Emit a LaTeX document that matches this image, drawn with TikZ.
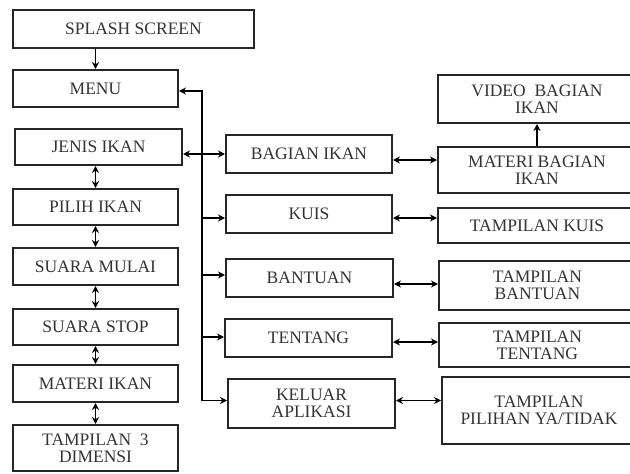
\documentclass[tikz,border=0pt]{standalone}
\usepackage{fontspec}
\setmainfont{Liberation Serif}
\usepackage{tikz}
\usetikzlibrary{arrows.meta, positioning, calc}
\tikzset{
  % Box styles
  screen/.style={rectangle, draw=black!85, line width=2pt, minimum width=#1, text centered, align=center, inner sep=2pt, text=black!80, font=\fontsize{17.5}{17}\selectfont},
  screen/.default={165pt},
  % Connector styles
  arrow/.style={-{Stealth[length=7pt, width=7pt]}, line width=1.8pt},
  darrow/.style={{Stealth[length=7pt, width=7pt]}-{Stealth[length=7pt, width=7pt]}, line width=1.8pt},
}
\begin{document}
\begin{tikzpicture}[x=1pt, y=-1pt]
    \useasboundingbox (0,0) rectangle (630,474);
    \clip (0,0) rectangle (630,474);

    % Left column
    \node[screen=241pt, minimum height=38pt] (splash) at (133.5,29) {SPLASH SCREEN};
    \node[screen, minimum height=37pt] (menu) at (95.5,88.5) {MENU};
    \node[screen=167pt, minimum height=36pt] (jenis) at (98.5,147) {JENIS IKAN};
    \node[screen, minimum height=36pt] (pilih) at (95.5,207) {PILIH IKAN};
    \node[screen, minimum height=37pt] (mulai) at (95.5,266.5) {SUARA MULAI};
    \node[screen, minimum height=36pt] (stop) at (95.5,327) {SUARA STOP};
    \node[screen, minimum height=37pt] (materi) at (95.5,383.5) {MATERI IKAN};
    \node[screen, minimum height=46pt] (dimensi) at (95.5,448) {TAMPILAN \ 3\\DIMENSI};

    % Middle column
    \node[screen=166pt, minimum height=38pt] (bagian) at (309,154) {BAGIAN IKAN};
    \node[screen=166pt, minimum height=38pt] (kuis) at (309,214) {KUIS};
    \node[screen=167pt, minimum height=38pt] (bantuan) at (309.5,278) {BANTUAN};
    \node[screen=167pt, minimum height=38pt] (tentang) at (308.5,338) {TENTANG};
    \node[screen=167pt, minimum height=49pt] (keluar) at (311.5,403.5) {KELUAR\\APLIKASI};

    % Right column
    \node[screen=198pt, minimum height=48pt] (video) at (537,99) {VIDEO \ BAGIAN\\IKAN};
    \node[screen=198pt, minimum height=46pt] (materibag) at (537,170) {MATERI BAGIAN\\IKAN};
    \node[screen=198pt, minimum height=35pt] (tkuis) at (537,225.5) {TAMPILAN KUIS};
    \node[screen=197pt, minimum height=49pt] (tbantuan) at (537.5,285.5) {TAMPILAN\\BANTUAN};
    \node[screen=197pt, minimum height=44pt] (ttentang) at (537.5,345) {TAMPILAN\\TENTANG};
    \node[screen=194pt, minimum height=67pt] (tpilihan) at (539,410.5) {TAMPILAN\\PILIHAN YA/TIDAK};

    % Left column arrows
    \draw[arrow] (splash.south -| menu) -- (menu.north);
    \draw[darrow] (menu.south |- jenis.south) -- (pilih.north);
    \draw[darrow] (pilih.south) -- (mulai.north);
    \draw[darrow] (mulai.south) -- (stop.north);
    \draw[darrow] (stop.south) -- (materi.north);
    \draw[darrow] (materi.south) -- (dimensi.north);

    % Menu bus
    \coordinate (bus) at (202,0);
    \draw[arrow] (bus |- keluar.west) ++(0,-3) -- ($(bus |- menu.east)+(0,2.5)$) -- ($(menu.east)+(0,2.5)$);
    \draw[darrow] (jenis.east |- bagian.west) -- (bagian.west);
    \draw[arrow] ($(bus |- kuis.west)+(0,4)$) -- ($(kuis.west)+(0,4)$);
    \draw[arrow] ($(bus |- bantuan.west)+(0,-3)$) -- ($(bantuan.west)+(0,-3)$);
    \draw[arrow] ($(bus |- tentang.west)+(0,-1)$) -- ($(tentang.west)+(0,-1)$);
    \draw[arrow] ($(bus |- keluar.west)+(0,-3)$) -- ($(keluar.west)+(0,-3)$);

    % Middle to right arrows
    \draw[darrow] ($(bagian.east)+(0,6)$) -- ($(bagian.east -| materibag.west)+(0,6)$);
    \draw[darrow] ($(kuis.east)+(0,4)$) -- ($(kuis.east -| tkuis.west)+(0,4)$);
    \draw[darrow] ($(bantuan.east)+(0,6)$) -- ($(bantuan.east -| tbantuan.west)+(0,6)$);
    \draw[darrow] ($(tentang.east)+(0,4)$) -- ($(tentang.east -| ttentang.west)+(0,4)$);
    \draw[darrow] ($(keluar.east)+(0,-3)$) -- ($(keluar.east -| tpilihan.west)+(0,-3)$);
    \draw[arrow] (materibag.north) -- (video.south);
\end{tikzpicture}
\end{document}
